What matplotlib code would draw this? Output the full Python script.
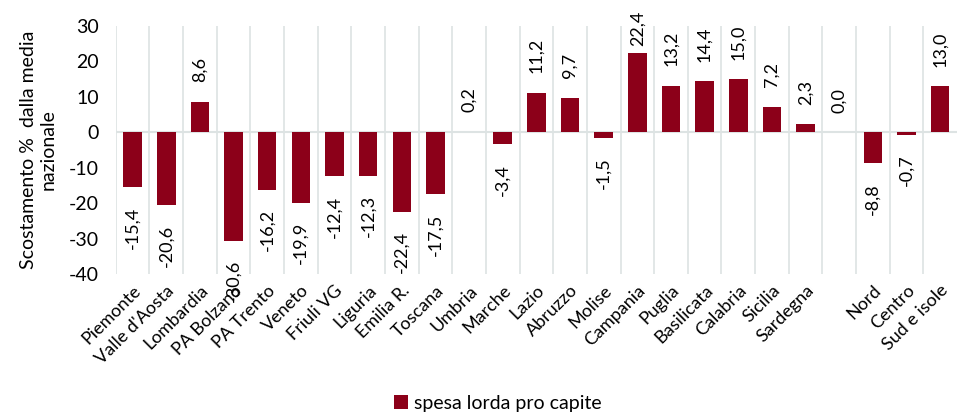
import matplotlib.pyplot as plt

categories = ["Piemonte", "Valle d'Aosta", "Lombardia", "PA Bolzano", "PA Trento",
              "Veneto", "Friuli VG", "Liguria", "Emilia R.", "Toscana", "Umbria",
              "Marche", "Lazio", "Abruzzo", "Molise", "Campania", "Puglia",
              "Basilicata", "Calabria", "Sicilia", "Sardegna", "", "Nord",
              "Centro", "Sud e isole"]
values = [-15.4, -20.6, 8.6, -30.6, -16.2, -19.9, -12.4, -12.3, -22.4, -17.5, 0.2,
          -3.4, 11.2, 9.7, -1.5, 22.4, 13.2, 14.4, 15.0, 7.2, 2.3, 0.0, -8.8,
          -0.7, 13.0]
yticks = [-40, -30, -20, -10, 0, 10, 20, 30]

plt.rcParams['font.family'] = ['Lato', 'DejaVu Sans']
color = "#8c0019"

fig = plt.figure(figsize=(9.57, 4.19), dpi=100)
ax = fig.add_axes([0.121, 0.346, 0.879, 0.592])

x = list(range(len(categories)))
ax.bar(x, values, width=0.55, color=color, label="spesa lorda pro capite", zorder=3)

# data labels, rotated, outside end (tallest one pushed back inside like Excel does)
for xi, v in zip(x, values):
    txt = f"{v:.1f}".replace(".", ",")
    if v >= 0:
        off = 5 if v > 20 else 14
        ax.annotate(txt, (xi, v), xytext=(0, off), textcoords="offset points",
                    rotation=90, ha="center", va="bottom", fontsize=13)
    else:
        ax.annotate(txt, (xi, v), xytext=(0, -14), textcoords="offset points",
                    rotation=90, ha="center", va="top", fontsize=13)

ax.set_xlim(-0.5, len(categories) - 0.5)
ax.set_ylim(-40, 30)
ax.set_yticks(yticks)
ax.set_yticklabels([str(t) for t in yticks], fontsize=14)

# vertical separators between categories
for b in range(len(categories)):
    ax.axvline(b - 0.5, color="#dde3e3", lw=1.2, zorder=1)
ax.axhline(0, color="#dde3e3", lw=1.5, zorder=2)

ax.set_xticks(x)
ax.set_xticklabels(categories, rotation=45, ha="right", va="top",
                   rotation_mode="anchor", fontsize=13)
ax.tick_params(axis="both", length=0)
ax.tick_params(axis="x", pad=6)
ax.tick_params(axis="y", pad=12)
for s in ax.spines.values():
    s.set_visible(False)

ax.set_ylabel("Scostamento %  dalla media\nnazionale", fontsize=14, labelpad=9)

fig.legend(loc="lower center", bbox_to_anchor=(0.52, -0.025), frameon=False,
           fontsize=14, handlelength=0.7, handleheight=0.7, handletextpad=0.3)

fig.savefig("out.png", dpi=100)
